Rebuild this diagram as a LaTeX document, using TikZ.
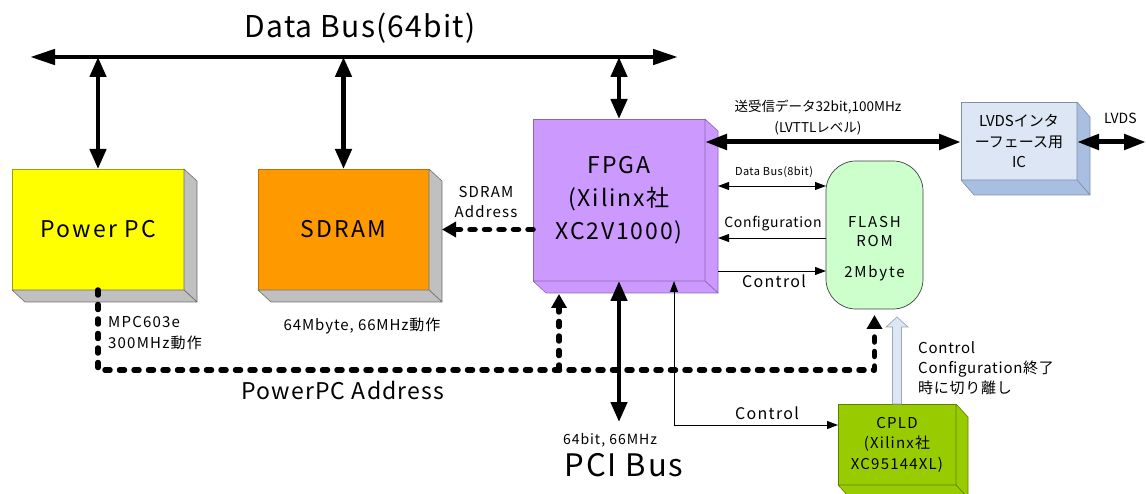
\documentclass[tikz,border=0pt]{standalone}
\usepackage{fontspec}
\setmainfont{Noto Sans CJK JP}
\usetikzlibrary{arrows.meta}
\newcommand\fsz[2]{\fontsize{#1}{#2}\selectfont}
\newcommand\lsp[1]{\addfontfeature{LetterSpace=#1}}
\newcommand\sidefaces[5]{%
  \filldraw[fill=#4,draw=#5,line width=0.6pt,line join=round] (#1.north east) -- ++(#2,#3) -- ([shift={(#2,#3)}]#1.south east) -- (#1.south east) -- cycle;
  \filldraw[fill=#4,draw=#5,line width=0.6pt,line join=round] (#1.south west) -- ++(#2,#3) -- ([shift={(#2,#3)}]#1.south east) -- (#1.south east) -- cycle;}
\definecolor{ppcY}{HTML}{FFFF00}
\definecolor{ppcB}{HTML}{A0A000}
\definecolor{sideG}{HTML}{C0C0C0}
\definecolor{sideB}{HTML}{707070}
\definecolor{sdO}{HTML}{FF9900}
\definecolor{sdB}{HTML}{C07000}
\definecolor{fpP}{HTML}{CC99FF}
\definecolor{fpB}{HTML}{8A66B0}
\definecolor{flG}{HTML}{CCFFCC}
\definecolor{lvF}{HTML}{DCE6F4}
\definecolor{lvS}{HTML}{A9BFE2}
\definecolor{lvB}{HTML}{7F8FA8}
\definecolor{cpG}{HTML}{99CC00}
\definecolor{cpB}{HTML}{5F7F00}
\definecolor{hoF}{HTML}{DCE6F4}
\definecolor{hoB}{HTML}{9AA8B8}
\begin{document}
\begin{tikzpicture}[x=1pt,y=-1pt,
  boxfront/.style={line width=0.7pt,inner sep=0pt,outer sep=0pt,align=center},
  busline/.style={line width=4.5pt,{Triangle[length=25pt,width=15pt]}-{Triangle[length=25pt,width=15pt]}},
  vbus/.style={line width=4.5pt,{Triangle[length=20pt,width=16pt]}-{Triangle[length=20pt,width=16pt]}},
  lvbus/.style={line width=5pt,{Triangle[length=22pt,width=15pt]}-{Triangle[length=22pt,width=15pt]}},
  thinline/.style={line width=0.9pt},
  thinhead/.style={-{Triangle[length=11pt,width=8pt]}},
  thinboth/.style={{Triangle[length=11pt,width=8pt]}-{Triangle[length=11pt,width=8pt]}},
  dotline/.style={line width=5.5pt,dash pattern=on 5pt off 9.5pt,line cap=round,line join=round},
  dothead/.style={-{Triangle[length=14pt,width=15pt]}},
  lbl/.style={inner sep=0pt,align=center},
  lbll/.style={inner sep=0pt,align=left,anchor=west}]
\useasboundingbox (0,0) rectangle (1146,494);

% ---------------- boxes ----------------
\node[boxfront,fill=ppcY,draw=ppcB,minimum width=172pt,minimum height=121pt,font=\fsz{23}{26}\lsp{10}] (ppc) at (98,229.5) {Power PC};
\sidefaces{ppc}{13}{12}{sideG}{sideB}
\node[boxfront,fill=sdO,draw=sdB,minimum width=171pt,minimum height=121pt,font=\fsz{23}{26}\lsp{10}] (sdram) at (343.5,229.5) {SDRAM};
\sidefaces{sdram}{13}{12}{sideG}{sideB}
\node[boxfront,fill=fpP,draw=fpB,minimum width=172pt,minimum height=162pt,font=\fsz{23}{33}\lsp{8}] (fpga) at (619,200) {FPGA\\(Xilinx社\\XC2V1000)};
\sidefaces{fpga}{13}{12}{fpP}{fpB}
\node[boxfront,fill=flG,draw=black!75,minimum width=97pt,minimum height=148pt,rounded corners=30pt] (flash) at (874.5,235) {};
\node[lbl,font=\fsz{15}{19}\lsp{12}] (flashtxt) at (874.5,249) {FLASH\\ROM\\[12pt]2Mbyte};
\node[boxfront,fill=lvF,draw=lvB,minimum width=116pt,minimum height=78pt,font=\fsz{15}{20.5}] (lvds) at (1019,141) {LVDSインタ\\ーフェース用\\IC};
\sidefaces{lvds}{13}{15}{lvS}{lvB}
\node[boxfront,fill=cpG,draw=cpB,minimum width=118pt,minimum height=81pt,font=\fsz{15}{20.5}\lsp{8}] (cpld) at (897,444.5) {CPLD\\(Xilinx社\\XC95144XL)};
\sidefaces{cpld}{12}{13}{cpG}{cpB}

% ---------------- coordinates ----------------
\coordinate (busL) at (30,57);
\coordinate (busR) at (678,57);
\coordinate (lvout) at (1146,142);
\coordinate (fside) at ([xshift=13pt]fpga.east);
\coordinate (yDB) at (0,186);
\coordinate (yCF) at (0,238);
\coordinate (yCO) at (0,271);
\coordinate (yLV) at (0,142);
\coordinate (sdside) at ([xshift=13pt]sdram.east);
\coordinate (yPA) at (0,370);
\coordinate (fbot) at ([shift={(26,13)}]fpga.south west);
\coordinate (flbot) at ([yshift=-6pt]flash.south);
\coordinate (pci) at (619,422);
\coordinate (ctl) at ([xshift=55pt]fpga.south);
\coordinate (yCT) at (0,425);

% ---------------- connectors ----------------
\draw[busline] (busL) -- (busR);
\draw[vbus] (ppc.north |- busL) -- (ppc.north);
\draw[vbus] (sdram.north |- busL) -- (sdram.north);
\draw[vbus] (fpga.north |- busL) -- (fpga.north);
\draw[lvbus] (fpga.east |- yLV) -- (lvds.west |- yLV);
\draw[lvbus] (lvds.east |- yLV) -- (lvout);
\draw[thinline,thinboth] (fside |- yDB) -- (flash.west |- yDB);
\draw[thinline,thinhead] (flash.west |- yCF) -- (fside |- yCF);
\draw[thinline,thinhead] (fside |- yCO) -- (flash.west |- yCO);
\draw[dotline,dothead] (fpga.west |- sdram.east) -- (sdside);
\draw[dotline,dothead] (ppc.south) -- (ppc.south |- yPA) -- (flash.south |- yPA) -- (flbot);
\draw[dotline,dothead] (fbot |- yPA) -- (fbot);
\draw[vbus] (fpga.south) -- (pci);
\draw[thinline,thinboth] (ctl) -- (ctl |- yCT) -- (cpld.west |- yCT);
\filldraw[fill=hoF,draw=hoB,line width=0.7pt,line join=miter]
  ([xshift=-4.5pt]cpld.north) -- ++(0,-77) -- ++(-6.5,0) -- ++(11,-10) -- ++(11,10) -- ++(-6.5,0) -- ++(0,77) -- cycle;

% ---------------- labels ----------------
\node[lbl,font=\fsz{30}{33}\lsp{4}] (tbus) at (360,28) {Data Bus(64bit)};
\node[lbl,font=\fsz{15}{20}\lsp{8}] (tsda) at (486,202) {SDRAM\\Address};
\node[lbll,font=\fsz{15}{20.5}\lsp{8}] (tmpc) at (108,333) {MPC603e\\300MHz動作};
\node[lbl,font=\fsz{15}{18}\lsp{6}] (tsdm) at (362,326) {64Mbyte, 66MHz動作};
\node[lbl,font=\fsz{23}{26}\lsp{5}] (tppa) at (343,390) {PowerPC Address};
\node[lbl,font=\fsz{13.5}{21}] (tlv) at (818,117.5) {送受信データ32bit,100MHz\\(LVTTLレベル)};
\node[lbll,font=\fsz{14}{18}] (tlvds) at (1104,118) {LVDS};
\node[lbl,font=\fsz{11}{14}\lsp{4}] (tdb8) at (774,172) {Data Bus(8bit)};
\node[lbl,font=\fsz{14}{18}\lsp{5}] (tcfg) at (773,224) {Configuration};
\node[lbl,font=\fsz{16}{20}\lsp{8}] (tctl) at (774,281) {Control};
\node[lbl,font=\fsz{14}{18}\lsp{7}] (t64) at (610,440) {64bit, 66MHz};
\node[lbl,font=\fsz{31}{34}\lsp{6}] (tpci) at (624,465) {PCI Bus};
\node[lbl,font=\fsz{16}{20}\lsp{8}] (tctl2) at (767,413) {Control};
\node[lbll,font=\fsz{15}{20}\lsp{5}] (tcc) at (918,368) {Control\\Configuration終了\\時に切り離し};
\end{tikzpicture}
\end{document}
